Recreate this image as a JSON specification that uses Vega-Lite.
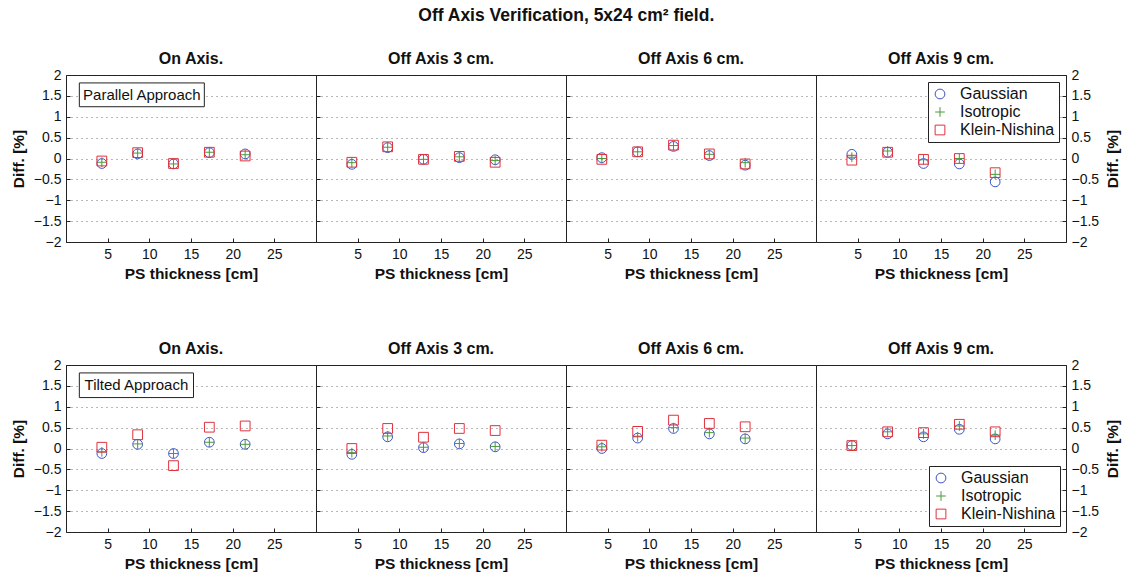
{
  "$schema": "https://vega.github.io/schema/vega-lite/v6.json",
  "background": "white",
  "padding": {"left": 10, "top": 6, "right": 5, "bottom": 5},
  "title": {"text": "Off Axis Verification, 5x24 cm² field.", "fontSize": 17.5, "fontWeight": "bold", "font": "Liberation Sans", "anchor": "middle", "offset": 26, "color": "#111"},
  "datasets": {
    "d": [
      {"approach":"Parallel","off":0,"model":"Gaussian","x":4.3,"y":-0.12},
      {"approach":"Parallel","off":0,"model":"Isotropic","x":4.3,"y":-0.09},
      {"approach":"Parallel","off":0,"model":"Klein-Nishina","x":4.3,"y":-0.06},
      {"approach":"Parallel","off":0,"model":"Gaussian","x":8.6,"y":0.11},
      {"approach":"Parallel","off":0,"model":"Isotropic","x":8.6,"y":0.13},
      {"approach":"Parallel","off":0,"model":"Klein-Nishina","x":8.6,"y":0.14},
      {"approach":"Parallel","off":0,"model":"Gaussian","x":12.9,"y":-0.13},
      {"approach":"Parallel","off":0,"model":"Isotropic","x":12.9,"y":-0.13},
      {"approach":"Parallel","off":0,"model":"Klein-Nishina","x":12.9,"y":-0.12},
      {"approach":"Parallel","off":0,"model":"Gaussian","x":17.2,"y":0.14},
      {"approach":"Parallel","off":0,"model":"Isotropic","x":17.2,"y":0.15},
      {"approach":"Parallel","off":0,"model":"Klein-Nishina","x":17.2,"y":0.15},
      {"approach":"Parallel","off":0,"model":"Gaussian","x":21.5,"y":0.11},
      {"approach":"Parallel","off":0,"model":"Isotropic","x":21.5,"y":0.09},
      {"approach":"Parallel","off":0,"model":"Klein-Nishina","x":21.5,"y":0.06},

      {"approach":"Parallel","off":3,"model":"Gaussian","x":4.3,"y":-0.14},
      {"approach":"Parallel","off":3,"model":"Isotropic","x":4.3,"y":-0.1},
      {"approach":"Parallel","off":3,"model":"Klein-Nishina","x":4.3,"y":-0.09},
      {"approach":"Parallel","off":3,"model":"Gaussian","x":8.6,"y":0.26},
      {"approach":"Parallel","off":3,"model":"Isotropic","x":8.6,"y":0.27},
      {"approach":"Parallel","off":3,"model":"Klein-Nishina","x":8.6,"y":0.28},
      {"approach":"Parallel","off":3,"model":"Gaussian","x":12.9,"y":-0.02},
      {"approach":"Parallel","off":3,"model":"Isotropic","x":12.9,"y":-0.02},
      {"approach":"Parallel","off":3,"model":"Klein-Nishina","x":12.9,"y":-0.02},
      {"approach":"Parallel","off":3,"model":"Gaussian","x":17.2,"y":0.02},
      {"approach":"Parallel","off":3,"model":"Isotropic","x":17.2,"y":0.04},
      {"approach":"Parallel","off":3,"model":"Klein-Nishina","x":17.2,"y":0.05},
      {"approach":"Parallel","off":3,"model":"Gaussian","x":21.5,"y":-0.03},
      {"approach":"Parallel","off":3,"model":"Isotropic","x":21.5,"y":-0.05},
      {"approach":"Parallel","off":3,"model":"Klein-Nishina","x":21.5,"y":-0.09},

      {"approach":"Parallel","off":6,"model":"Gaussian","x":4.3,"y":0.02},
      {"approach":"Parallel","off":6,"model":"Isotropic","x":4.3,"y":0.0},
      {"approach":"Parallel","off":6,"model":"Klein-Nishina","x":4.3,"y":-0.02},
      {"approach":"Parallel","off":6,"model":"Gaussian","x":8.6,"y":0.16},
      {"approach":"Parallel","off":6,"model":"Isotropic","x":8.6,"y":0.16},
      {"approach":"Parallel","off":6,"model":"Klein-Nishina","x":8.6,"y":0.16},
      {"approach":"Parallel","off":6,"model":"Gaussian","x":12.9,"y":0.29},
      {"approach":"Parallel","off":6,"model":"Isotropic","x":12.9,"y":0.31},
      {"approach":"Parallel","off":6,"model":"Klein-Nishina","x":12.9,"y":0.32},
      {"approach":"Parallel","off":6,"model":"Gaussian","x":17.2,"y":0.07},
      {"approach":"Parallel","off":6,"model":"Isotropic","x":17.2,"y":0.1},
      {"approach":"Parallel","off":6,"model":"Klein-Nishina","x":17.2,"y":0.11},
      {"approach":"Parallel","off":6,"model":"Gaussian","x":21.5,"y":-0.16},
      {"approach":"Parallel","off":6,"model":"Isotropic","x":21.5,"y":-0.1},
      {"approach":"Parallel","off":6,"model":"Klein-Nishina","x":21.5,"y":-0.13},

      {"approach":"Parallel","off":9,"model":"Gaussian","x":4.3,"y":0.1},
      {"approach":"Parallel","off":9,"model":"Isotropic","x":4.3,"y":0.03},
      {"approach":"Parallel","off":9,"model":"Klein-Nishina","x":4.3,"y":-0.04},
      {"approach":"Parallel","off":9,"model":"Gaussian","x":8.6,"y":0.15},
      {"approach":"Parallel","off":9,"model":"Isotropic","x":8.6,"y":0.18},
      {"approach":"Parallel","off":9,"model":"Klein-Nishina","x":8.6,"y":0.15},
      {"approach":"Parallel","off":9,"model":"Gaussian","x":12.9,"y":-0.12},
      {"approach":"Parallel","off":9,"model":"Isotropic","x":12.9,"y":-0.03},
      {"approach":"Parallel","off":9,"model":"Klein-Nishina","x":12.9,"y":-0.02},
      {"approach":"Parallel","off":9,"model":"Gaussian","x":17.2,"y":-0.13},
      {"approach":"Parallel","off":9,"model":"Isotropic","x":17.2,"y":0.0},
      {"approach":"Parallel","off":9,"model":"Klein-Nishina","x":17.2,"y":0.0},
      {"approach":"Parallel","off":9,"model":"Gaussian","x":21.5,"y":-0.56},
      {"approach":"Parallel","off":9,"model":"Isotropic","x":21.5,"y":-0.38},
      {"approach":"Parallel","off":9,"model":"Klein-Nishina","x":21.5,"y":-0.34},

      {"approach":"Tilted","off":0,"model":"Gaussian","x":4.3,"y":-0.12},
      {"approach":"Tilted","off":0,"model":"Isotropic","x":4.3,"y":-0.08},
      {"approach":"Tilted","off":0,"model":"Klein-Nishina","x":4.3,"y":0.03},
      {"approach":"Tilted","off":0,"model":"Gaussian","x":8.6,"y":0.1},
      {"approach":"Tilted","off":0,"model":"Isotropic","x":8.6,"y":0.11},
      {"approach":"Tilted","off":0,"model":"Klein-Nishina","x":8.6,"y":0.33},
      {"approach":"Tilted","off":0,"model":"Gaussian","x":12.9,"y":-0.12},
      {"approach":"Tilted","off":0,"model":"Isotropic","x":12.9,"y":-0.12},
      {"approach":"Tilted","off":0,"model":"Klein-Nishina","x":12.9,"y":-0.41},
      {"approach":"Tilted","off":0,"model":"Gaussian","x":17.2,"y":0.15},
      {"approach":"Tilted","off":0,"model":"Isotropic","x":17.2,"y":0.15},
      {"approach":"Tilted","off":0,"model":"Klein-Nishina","x":17.2,"y":0.51},
      {"approach":"Tilted","off":0,"model":"Gaussian","x":21.5,"y":0.1},
      {"approach":"Tilted","off":0,"model":"Isotropic","x":21.5,"y":0.1},
      {"approach":"Tilted","off":0,"model":"Klein-Nishina","x":21.5,"y":0.54},

      {"approach":"Tilted","off":3,"model":"Gaussian","x":4.3,"y":-0.14},
      {"approach":"Tilted","off":3,"model":"Isotropic","x":4.3,"y":-0.1},
      {"approach":"Tilted","off":3,"model":"Klein-Nishina","x":4.3,"y":0.0},
      {"approach":"Tilted","off":3,"model":"Gaussian","x":8.6,"y":0.28},
      {"approach":"Tilted","off":3,"model":"Isotropic","x":8.6,"y":0.3},
      {"approach":"Tilted","off":3,"model":"Klein-Nishina","x":8.6,"y":0.48},
      {"approach":"Tilted","off":3,"model":"Gaussian","x":12.9,"y":0.02},
      {"approach":"Tilted","off":3,"model":"Isotropic","x":12.9,"y":0.03},
      {"approach":"Tilted","off":3,"model":"Klein-Nishina","x":12.9,"y":0.27},
      {"approach":"Tilted","off":3,"model":"Gaussian","x":17.2,"y":0.11},
      {"approach":"Tilted","off":3,"model":"Isotropic","x":17.2,"y":0.12},
      {"approach":"Tilted","off":3,"model":"Klein-Nishina","x":17.2,"y":0.48},
      {"approach":"Tilted","off":3,"model":"Gaussian","x":21.5,"y":0.04},
      {"approach":"Tilted","off":3,"model":"Isotropic","x":21.5,"y":0.05},
      {"approach":"Tilted","off":3,"model":"Klein-Nishina","x":21.5,"y":0.43},

      {"approach":"Tilted","off":6,"model":"Gaussian","x":4.3,"y":0.0},
      {"approach":"Tilted","off":6,"model":"Isotropic","x":4.3,"y":0.04},
      {"approach":"Tilted","off":6,"model":"Klein-Nishina","x":4.3,"y":0.08},
      {"approach":"Tilted","off":6,"model":"Gaussian","x":8.6,"y":0.25},
      {"approach":"Tilted","off":6,"model":"Isotropic","x":8.6,"y":0.28},
      {"approach":"Tilted","off":6,"model":"Klein-Nishina","x":8.6,"y":0.41},
      {"approach":"Tilted","off":6,"model":"Gaussian","x":12.9,"y":0.48},
      {"approach":"Tilted","off":6,"model":"Isotropic","x":12.9,"y":0.5},
      {"approach":"Tilted","off":6,"model":"Klein-Nishina","x":12.9,"y":0.68},
      {"approach":"Tilted","off":6,"model":"Gaussian","x":17.2,"y":0.35},
      {"approach":"Tilted","off":6,"model":"Isotropic","x":17.2,"y":0.38},
      {"approach":"Tilted","off":6,"model":"Klein-Nishina","x":17.2,"y":0.6},
      {"approach":"Tilted","off":6,"model":"Gaussian","x":21.5,"y":0.23},
      {"approach":"Tilted","off":6,"model":"Isotropic","x":21.5,"y":0.25},
      {"approach":"Tilted","off":6,"model":"Klein-Nishina","x":21.5,"y":0.52},

      {"approach":"Tilted","off":9,"model":"Gaussian","x":4.3,"y":0.07},
      {"approach":"Tilted","off":9,"model":"Isotropic","x":4.3,"y":0.07},
      {"approach":"Tilted","off":9,"model":"Klein-Nishina","x":4.3,"y":0.07},
      {"approach":"Tilted","off":9,"model":"Gaussian","x":8.6,"y":0.35},
      {"approach":"Tilted","off":9,"model":"Isotropic","x":8.6,"y":0.4},
      {"approach":"Tilted","off":9,"model":"Klein-Nishina","x":8.6,"y":0.4},
      {"approach":"Tilted","off":9,"model":"Gaussian","x":12.9,"y":0.28},
      {"approach":"Tilted","off":9,"model":"Isotropic","x":12.9,"y":0.35},
      {"approach":"Tilted","off":9,"model":"Klein-Nishina","x":12.9,"y":0.38},
      {"approach":"Tilted","off":9,"model":"Gaussian","x":17.2,"y":0.46},
      {"approach":"Tilted","off":9,"model":"Isotropic","x":17.2,"y":0.54},
      {"approach":"Tilted","off":9,"model":"Klein-Nishina","x":17.2,"y":0.58},
      {"approach":"Tilted","off":9,"model":"Gaussian","x":21.5,"y":0.23},
      {"approach":"Tilted","off":9,"model":"Isotropic","x":21.5,"y":0.32},
      {"approach":"Tilted","off":9,"model":"Klein-Nishina","x":21.5,"y":0.4}
    ]
  },
  "vconcat": [
    {
      "hconcat": [
        {
          "title": {"text": "On Axis.", "offset": 1}, "width": 250, "height": 167,
          "layer": [
            {"data": {"name": "d"}, "transform": [{"filter": "datum.approach === 'Parallel' && datum.off === 0"}],
             "mark": {"type": "point", "filled": false, "size": 95, "strokeWidth": 1, "opacity": 1},
             "encoding": {
               "x": {"field": "x", "type": "quantitative", "scale": {"domain": [0, 30], "nice": false}, "axis": {"title": "PS thickness [cm]", "values": [5,10,15,20,25]}},
               "y": {"field": "y", "type": "quantitative", "scale": {"domain": [-2, 2], "nice": false}, "axis": {"title": "Diff. [%]", "orient": "left", "values": [-2,-1.5,-1,-0.5,0,0.5,1,1.5,2]}},
               "color": {"field": "model", "type": "nominal", "scale": {"domain": ["Gaussian","Isotropic","Klein-Nishina"], "range": ["#3b54c4","#4a9a3a","#e0313c"]}, "legend": null},
               "shape": {"field": "model", "type": "nominal", "scale": {"domain": ["Gaussian","Isotropic","Klein-Nishina"], "range": ["circle","M-1,0H1M0,-1V1","square"]}, "legend": null}
             }},
            {"data": {"values": [{}]}, "mark": {"type": "rect", "fill": "white", "stroke": "#222", "strokeWidth": 1},
             "encoding": {"x": {"datum": 1.6, "type": "quantitative", "axis": {"title": "PS thickness [cm]", "values": [5,10,15,20,25]}}, "x2": {"datum": 16.6},
                          "y": {"datum": 1.81, "type": "quantitative", "axis": {"title": "Diff. [%]", "orient": "left", "values": [-2,-1.5,-1,-0.5,0,0.5,1,1.5,2]}}, "y2": {"datum": 1.24}}},
            {"data": {"values": [{}]}, "mark": {"type": "text", "fontSize": 15, "font": "Liberation Sans", "color": "#111"},
             "encoding": {"x": {"datum": 9.1, "type": "quantitative", "axis": {"title": "PS thickness [cm]", "values": [5,10,15,20,25]}},
                          "y": {"datum": 1.52, "type": "quantitative", "axis": {"title": "Diff. [%]", "orient": "left", "values": [-2,-1.5,-1,-0.5,0,0.5,1,1.5,2]}}, "text": {"value": "Parallel Approach"}}}
          ]
        },
        {
          "title": "Off Axis 3 cm.", "width": 250, "height": 167,
          "data": {"name": "d"}, "transform": [{"filter": "datum.approach === 'Parallel' && datum.off === 3"}],
          "mark": {"type": "point", "filled": false, "size": 95, "strokeWidth": 1, "opacity": 1},
          "encoding": {
            "x": {"field": "x", "type": "quantitative", "scale": {"domain": [0, 30], "nice": false}, "axis": {"title": "PS thickness [cm]", "values": [5,10,15,20,25]}},
            "y": {"field": "y", "type": "quantitative", "scale": {"domain": [-2, 2], "nice": false}, "axis": {"title": null, "labels": false, "values": [-2,-1.5,-1,-0.5,0,0.5,1,1.5,2]}},
            "color": {"field": "model", "type": "nominal", "scale": {"domain": ["Gaussian","Isotropic","Klein-Nishina"], "range": ["#3b54c4","#4a9a3a","#e0313c"]}, "legend": null},
            "shape": {"field": "model", "type": "nominal", "scale": {"domain": ["Gaussian","Isotropic","Klein-Nishina"], "range": ["circle","M-1,0H1M0,-1V1","square"]}, "legend": null}
          }
        },
        {
          "title": "Off Axis 6 cm.", "width": 250, "height": 167,
          "data": {"name": "d"}, "transform": [{"filter": "datum.approach === 'Parallel' && datum.off === 6"}],
          "mark": {"type": "point", "filled": false, "size": 95, "strokeWidth": 1, "opacity": 1},
          "encoding": {
            "x": {"field": "x", "type": "quantitative", "scale": {"domain": [0, 30], "nice": false}, "axis": {"title": "PS thickness [cm]", "values": [5,10,15,20,25]}},
            "y": {"field": "y", "type": "quantitative", "scale": {"domain": [-2, 2], "nice": false}, "axis": {"title": null, "labels": false, "values": [-2,-1.5,-1,-0.5,0,0.5,1,1.5,2]}},
            "color": {"field": "model", "type": "nominal", "scale": {"domain": ["Gaussian","Isotropic","Klein-Nishina"], "range": ["#3b54c4","#4a9a3a","#e0313c"]}, "legend": null},
            "shape": {"field": "model", "type": "nominal", "scale": {"domain": ["Gaussian","Isotropic","Klein-Nishina"], "range": ["circle","M-1,0H1M0,-1V1","square"]}, "legend": null}
          }
        },
        {
          "title": {"text": "Off Axis 9 cm.", "offset": 1}, "width": 250, "height": 167,
          "data": {"name": "d"}, "transform": [{"filter": "datum.approach === 'Parallel' && datum.off === 9"}],
          "mark": {"type": "point", "filled": false, "size": 95, "strokeWidth": 1, "opacity": 1},
          "encoding": {
            "x": {"field": "x", "type": "quantitative", "scale": {"domain": [0, 30], "nice": false}, "axis": {"title": "PS thickness [cm]", "values": [5,10,15,20,25]}},
            "y": {"field": "y", "type": "quantitative", "scale": {"domain": [-2, 2], "nice": false}, "axis": {"title": "Diff. [%]", "orient": "right", "titleAngle": 270, "titlePadding": 22, "values": [-2,-1.5,-1,-0.5,0,0.5,1,1.5,2]}},
            "color": {"field": "model", "type": "nominal", "scale": {"domain": ["Gaussian","Isotropic","Klein-Nishina"], "range": ["#3b54c4","#4a9a3a","#e0313c"]},
                      "legend": {"orient": "top-right", "title": null, "offset": 7, "strokeColor": "#222", "fillColor": "white", "padding": 4, "labelFontSize": 16, "labelFont": "Liberation Sans", "labelColor": "#111", "symbolSize": 95, "symbolStrokeWidth": 1, "rowPadding": 2, "labelOffset": 12}},
            "shape": {"field": "model", "type": "nominal", "scale": {"domain": ["Gaussian","Isotropic","Klein-Nishina"], "range": ["circle","M-1,0H1M0,-1V1","square"]},
                      "legend": {"orient": "top-right", "title": null}}
          }
        }
      ],
      "spacing": 0, "bounds": "flush",
      "resolve": {"scale": {"color": "independent", "shape": "independent"}, "legend": {"color": "independent", "shape": "independent"}}
    },
    {
      "hconcat": [
        {
          "title": {"text": "On Axis.", "offset": 1}, "width": 250, "height": 167,
          "layer": [
            {"data": {"name": "d"}, "transform": [{"filter": "datum.approach === 'Tilted' && datum.off === 0"}],
             "mark": {"type": "point", "filled": false, "size": 95, "strokeWidth": 1, "opacity": 1},
             "encoding": {
               "x": {"field": "x", "type": "quantitative", "scale": {"domain": [0, 30], "nice": false}, "axis": {"title": "PS thickness [cm]", "values": [5,10,15,20,25]}},
               "y": {"field": "y", "type": "quantitative", "scale": {"domain": [-2, 2], "nice": false}, "axis": {"title": "Diff. [%]", "orient": "left", "values": [-2,-1.5,-1,-0.5,0,0.5,1,1.5,2]}},
               "color": {"field": "model", "type": "nominal", "scale": {"domain": ["Gaussian","Isotropic","Klein-Nishina"], "range": ["#3b54c4","#4a9a3a","#e0313c"]}, "legend": null},
               "shape": {"field": "model", "type": "nominal", "scale": {"domain": ["Gaussian","Isotropic","Klein-Nishina"], "range": ["circle","M-1,0H1M0,-1V1","square"]}, "legend": null}
             }},
            {"data": {"values": [{}]}, "mark": {"type": "rect", "fill": "white", "stroke": "#222", "strokeWidth": 1},
             "encoding": {"x": {"datum": 1.6, "type": "quantitative", "axis": {"title": "PS thickness [cm]", "values": [5,10,15,20,25]}}, "x2": {"datum": 15.3},
                          "y": {"datum": 1.81, "type": "quantitative", "axis": {"title": "Diff. [%]", "orient": "left", "values": [-2,-1.5,-1,-0.5,0,0.5,1,1.5,2]}}, "y2": {"datum": 1.22}}},
            {"data": {"values": [{}]}, "mark": {"type": "text", "fontSize": 15, "font": "Liberation Sans", "color": "#111"},
             "encoding": {"x": {"datum": 8.45, "type": "quantitative", "axis": {"title": "PS thickness [cm]", "values": [5,10,15,20,25]}},
                          "y": {"datum": 1.51, "type": "quantitative", "axis": {"title": "Diff. [%]", "orient": "left", "values": [-2,-1.5,-1,-0.5,0,0.5,1,1.5,2]}}, "text": {"value": "Tilted Approach"}}}
          ]
        },
        {
          "title": "Off Axis 3 cm.", "width": 250, "height": 167,
          "data": {"name": "d"}, "transform": [{"filter": "datum.approach === 'Tilted' && datum.off === 3"}],
          "mark": {"type": "point", "filled": false, "size": 95, "strokeWidth": 1, "opacity": 1},
          "encoding": {
            "x": {"field": "x", "type": "quantitative", "scale": {"domain": [0, 30], "nice": false}, "axis": {"title": "PS thickness [cm]", "values": [5,10,15,20,25]}},
            "y": {"field": "y", "type": "quantitative", "scale": {"domain": [-2, 2], "nice": false}, "axis": {"title": null, "labels": false, "values": [-2,-1.5,-1,-0.5,0,0.5,1,1.5,2]}},
            "color": {"field": "model", "type": "nominal", "scale": {"domain": ["Gaussian","Isotropic","Klein-Nishina"], "range": ["#3b54c4","#4a9a3a","#e0313c"]}, "legend": null},
            "shape": {"field": "model", "type": "nominal", "scale": {"domain": ["Gaussian","Isotropic","Klein-Nishina"], "range": ["circle","M-1,0H1M0,-1V1","square"]}, "legend": null}
          }
        },
        {
          "title": "Off Axis 6 cm.", "width": 250, "height": 167,
          "data": {"name": "d"}, "transform": [{"filter": "datum.approach === 'Tilted' && datum.off === 6"}],
          "mark": {"type": "point", "filled": false, "size": 95, "strokeWidth": 1, "opacity": 1},
          "encoding": {
            "x": {"field": "x", "type": "quantitative", "scale": {"domain": [0, 30], "nice": false}, "axis": {"title": "PS thickness [cm]", "values": [5,10,15,20,25]}},
            "y": {"field": "y", "type": "quantitative", "scale": {"domain": [-2, 2], "nice": false}, "axis": {"title": null, "labels": false, "values": [-2,-1.5,-1,-0.5,0,0.5,1,1.5,2]}},
            "color": {"field": "model", "type": "nominal", "scale": {"domain": ["Gaussian","Isotropic","Klein-Nishina"], "range": ["#3b54c4","#4a9a3a","#e0313c"]}, "legend": null},
            "shape": {"field": "model", "type": "nominal", "scale": {"domain": ["Gaussian","Isotropic","Klein-Nishina"], "range": ["circle","M-1,0H1M0,-1V1","square"]}, "legend": null}
          }
        },
        {
          "title": {"text": "Off Axis 9 cm.", "offset": 1}, "width": 250, "height": 167,
          "data": {"name": "d"}, "transform": [{"filter": "datum.approach === 'Tilted' && datum.off === 9"}],
          "mark": {"type": "point", "filled": false, "size": 95, "strokeWidth": 1, "opacity": 1},
          "encoding": {
            "x": {"field": "x", "type": "quantitative", "scale": {"domain": [0, 30], "nice": false}, "axis": {"title": "PS thickness [cm]", "values": [5,10,15,20,25]}},
            "y": {"field": "y", "type": "quantitative", "scale": {"domain": [-2, 2], "nice": false}, "axis": {"title": "Diff. [%]", "orient": "right", "titleAngle": 270, "titlePadding": 22, "values": [-2,-1.5,-1,-0.5,0,0.5,1,1.5,2]}},
            "color": {"field": "model", "type": "nominal", "scale": {"domain": ["Gaussian","Isotropic","Klein-Nishina"], "range": ["#3b54c4","#4a9a3a","#e0313c"]},
                      "legend": {"orient": "bottom-right", "title": null, "offset": 6, "strokeColor": "#222", "fillColor": "white", "padding": 4, "labelFontSize": 16, "labelFont": "Liberation Sans", "labelColor": "#111", "symbolSize": 95, "symbolStrokeWidth": 1, "rowPadding": 2, "labelOffset": 12}},
            "shape": {"field": "model", "type": "nominal", "scale": {"domain": ["Gaussian","Isotropic","Klein-Nishina"], "range": ["circle","M-1,0H1M0,-1V1","square"]},
                      "legend": {"orient": "bottom-right", "title": null}}
          }
        }
      ],
      "spacing": 0, "bounds": "flush",
      "resolve": {"scale": {"color": "independent", "shape": "independent"}, "legend": {"color": "independent", "shape": "independent"}}
    }
  ],
  "spacing": 290,
  "bounds": "flush",
  "config": {
    "font": "Liberation Sans",
    "view": {"stroke": "#222", "strokeWidth": 1},
    "title": {"fontSize": 16, "fontWeight": "bold", "font": "Liberation Sans", "offset": 8, "color": "#111"},
    "axis": {
      "domain": false, "grid": false,
      "labelFont": "Liberation Sans", "labelFontSize": 14, "labelColor": "#111",
      "titleFont": "Liberation Sans", "titleFontSize": 15.5, "titleFontWeight": "bold", "titleColor": "#111",
      "tickColor": "#222", "tickSize": -4, "labelPadding": 9, "labelOverlap": false, "format": "~g"
    },
    "axisX": {"titlePadding": 5},
    "axisY": {"grid": true, "gridDash": [1, 4], "gridColor": "#333", "gridOpacity": 0.7, "titlePadding": 7, "labelFlush": false},
    "legend": {"symbolStrokeWidth": 1}
  }
}
